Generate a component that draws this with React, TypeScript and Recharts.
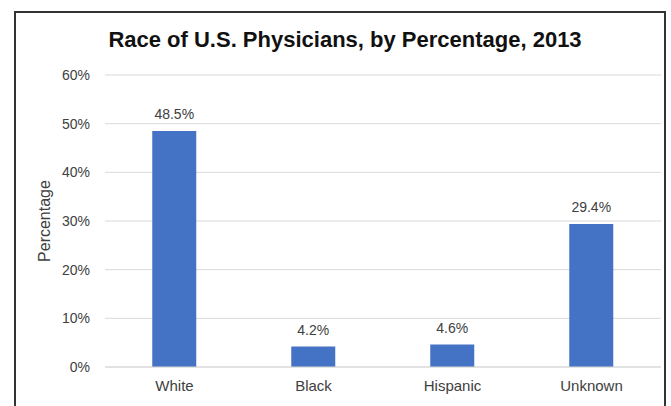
import { Bar, BarChart, CartesianGrid, LabelList, XAxis, YAxis } from "recharts";

const races = ["White", "Black", "Hispanic", "Unknown"];
const shares = [48.5, 4.2, 4.6, 29.4];
const yTicks = [0, 10, 20, 30, 40, 50, 60];

const data = races.map((race, i) => ({ race, share: shares[i] }));

const FONT = "'Liberation Sans', Arial, sans-serif";
const TEXT = "#404040";

export default function App() {
  return (
    <div
      style={{
        position: "absolute",
        left: 0,
        top: 0,
        width: 671,
        height: 406,
        overflow: "hidden",
        background: "#fff",
        fontFamily: FONT,
      }}
    >
      <div
        style={{
          position: "absolute",
          left: 14,
          top: 11,
          width: 648,
          height: 420,
          border: "2px solid #333",
        }}
      />
      <div
        style={{
          position: "absolute",
          left: 0,
          top: 27,
          width: 690,
          textAlign: "center",
          fontSize: 22,
          fontWeight: 700,
          color: "#111",
        }}
      >
        Race of U.S. Physicians, by Percentage, 2013
      </div>
      <div style={{ position: "absolute", left: 0, top: 0 }}>
        <BarChart
          width={671}
          height={406}
          data={data}
          margin={{ top: 75, right: 10, bottom: 9, left: 0 }}
          barCategoryGap="34%"
        >
          <CartesianGrid vertical={false} stroke="#d9d9d9" />
          <XAxis
            dataKey="race"
            height={30}
            stroke="#d9d9d9"
            tickLine={false}
            tickSize={0}
            tickMargin={13}
            tick={{ fontSize: 15, fill: TEXT, fontFamily: FONT }}
          />
          <YAxis
            width={105}
            domain={[0, 60]}
            ticks={yTicks}
            axisLine={false}
            tickLine={false}
            tickSize={0}
            tickMargin={15}
            tickFormatter={(v: number) => `${v}%`}
            tick={{ fontSize: 14, fill: TEXT, fontFamily: FONT }}
            label={{
              value: "Percentage",
              angle: -90,
              position: "center",
              dx: -8,
              style: { fontSize: 16, fill: TEXT, fontFamily: FONT },
            }}
          />
          <Bar dataKey="share" fill="#4472C4" isAnimationActive={false}>
            <LabelList
              dataKey="share"
              position="top"
              offset={12}
              formatter={(v: number) => `${v}%`}
              style={{ fontSize: 14, fill: TEXT, fontFamily: FONT }}
            />
          </Bar>
        </BarChart>
      </div>
    </div>
  );
}
